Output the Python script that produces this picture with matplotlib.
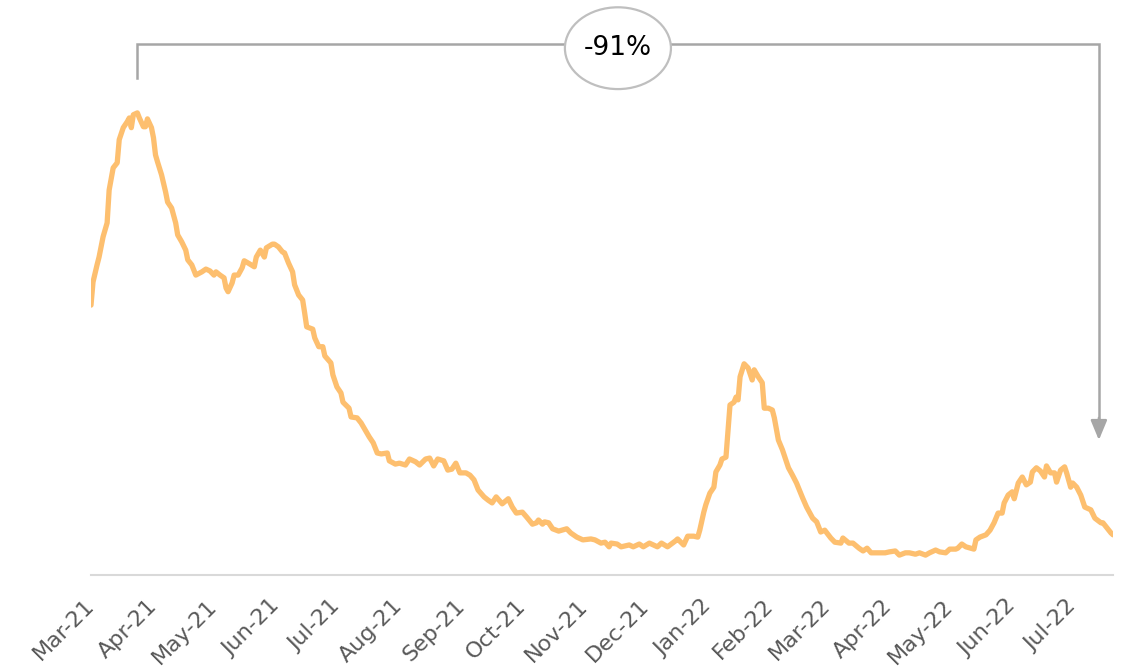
import matplotlib
matplotlib.use('Agg')
import matplotlib.pyplot as plt
import matplotlib.dates as mdates
from matplotlib.patches import Ellipse
import pandas as pd

# 数据：自 2021-03-01 起的天数，以及对应的数值（峰值 = 100）
day = [0, 1, 3, 4, 6, 8, 9, 11, 13, 14, 16, 18, 19, 20, 21, 23, 24, 26, 27, 28,
       30, 31, 32, 33, 35, 37, 38, 40, 42, 43, 45, 47, 48, 50, 52, 55, 57, 59, 61, 62,
       64, 66, 67, 68, 70, 71, 73, 75, 76, 78, 81, 82, 84, 86, 87, 90, 91, 93, 95, 96,
       98, 100, 101, 103, 105, 106, 107, 110, 111, 113, 115, 116, 119, 120, 122, 124, 125, 128, 129, 132,
       134, 136, 138, 140, 142, 144, 147, 148, 151, 153, 156, 158, 161, 163, 166, 168, 170, 172, 175, 177,
       179, 181, 183, 186, 188, 190, 192, 195, 197, 199, 201, 204, 207, 209, 211, 214, 216, 219, 221, 222,
       224, 225, 227, 229, 232, 236, 238, 241, 244, 248, 250, 253, 255, 257, 258, 261, 263, 267, 269, 272,
       274, 277, 281, 283, 286, 290, 291, 294, 296, 299, 301, 302, 304, 305, 307, 309, 310, 312, 313, 315,
       316, 317, 319, 320, 321, 322, 324, 326, 328, 329, 331, 333, 334, 336, 338, 339, 341, 343, 346, 348,
       350, 353, 355, 358, 360, 362, 364, 367, 369, 372, 373, 376, 378, 381, 383, 385, 387, 391, 394, 396,
       399, 401, 404, 406, 409, 411, 414, 416, 419, 421, 424, 426, 429, 430, 432, 434, 438, 439, 441, 444,
       446, 448, 450, 452, 453, 455, 457, 458, 460, 462, 464, 466, 467, 469, 471, 473, 474, 476, 478, 479,
       481, 483, 484, 486, 487, 489, 491, 493, 496, 498, 501, 502, 504, 506, 507]
value = [58.4, 63.4, 67.1, 68.8, 73.2, 76.2, 83.3, 88.1, 89.2, 94.2, 96.8, 98.1, 98.9, 96.8, 99.6, 100.0, 98.9, 97.0, 97.0, 98.7,
         96.8, 94.6, 90.9, 89.4, 86.6, 82.9, 80.7, 79.4, 76.2, 73.6, 72.1, 70.3, 68.2, 67.1, 64.9, 65.6, 66.2, 65.8, 64.9, 65.6,
         64.9, 64.3, 62.1, 61.3, 63.2, 64.9, 64.9, 66.5, 68.0, 67.5, 66.7, 68.8, 70.3, 68.8, 70.8, 71.6, 71.6, 71.0, 69.9, 69.7,
         67.5, 65.6, 62.8, 60.6, 59.5, 56.7, 53.7, 53.2, 51.3, 49.4, 49.4, 47.4, 45.9, 43.3, 40.7, 39.4, 37.4, 36.1, 34.2, 34.0,
         32.9, 31.4, 29.9, 28.6, 26.4, 26.2, 26.4, 24.7, 24.0, 24.2, 23.8, 25.1, 24.5, 23.8, 25.1, 25.3, 23.6, 25.1, 24.7, 22.7,
         22.9, 24.2, 22.1, 22.1, 21.6, 20.6, 18.4, 16.9, 16.2, 15.6, 16.9, 15.4, 16.5, 14.7, 13.4, 13.6, 12.6, 11.0, 11.3, 11.9,
         11.0, 11.5, 11.3, 10.0, 9.5, 10.0, 9.1, 8.2, 7.6, 7.8, 7.6, 6.9, 7.1, 6.1, 6.9, 6.7, 6.1, 6.5, 6.1, 6.7,
         6.1, 6.9, 6.1, 6.9, 6.1, 7.4, 7.8, 6.5, 8.4, 8.4, 8.2, 9.7, 13.6, 15.2, 17.7, 19.0, 22.3, 23.8, 25.1, 25.5,
         31.0, 36.8, 37.4, 38.5, 37.9, 42.9, 45.7, 44.8, 42.2, 44.4, 42.9, 41.6, 36.1, 36.1, 35.7, 34.0, 29.2, 27.1, 23.2, 21.6,
         19.9, 16.7, 14.7, 12.3, 11.5, 9.3, 9.7, 8.0, 7.1, 6.9, 8.0, 6.9, 6.9, 5.8, 5.2, 5.8, 4.8, 4.8, 4.8, 5.0,
         5.2, 4.3, 4.8, 4.8, 4.5, 4.8, 4.3, 4.8, 5.4, 5.0, 4.8, 5.6, 5.6, 5.8, 6.7, 6.1, 5.6, 7.6, 8.2, 8.7,
         9.7, 11.3, 13.4, 13.4, 15.6, 17.3, 18.0, 16.5, 19.9, 21.2, 19.5, 20.1, 22.3, 23.2, 22.5, 21.2, 23.6, 22.1, 22.1, 20.1,
         22.7, 23.4, 22.1, 19.0, 19.9, 19.0, 17.3, 14.7, 14.1, 12.3, 11.3, 11.3, 10.2, 9.1, 8.7]

start = pd.Timestamp('2021-03-01')
dates = start + pd.to_timedelta(day, unit='D')

line_color = '#FDBF6F'
grey = '#A6A6A6'

fig = plt.figure(figsize=(11.25, 6.71), dpi=100)
ax = fig.add_axes([91 / 1125, 1 - 575 / 671, 1022 / 1125, 555 / 671])

ax.plot(dates, value, color=line_color, lw=3.8, solid_joinstyle='round', solid_capstyle='round')

ax.set_xlim(dates[0], dates[-1])
ax.set_ylim(0, 120.1)

# 坐标轴样式：只保留浅灰色底边
for side in ['top', 'right', 'left']:
    ax.spines[side].set_visible(False)
ax.spines['bottom'].set_color('#D9D9D9')
ax.spines['bottom'].set_linewidth(1.5)
ax.set_yticks([])
ax.xaxis.set_major_locator(mdates.MonthLocator())
ax.xaxis.set_major_formatter(mdates.DateFormatter('%b-%y'))
ax.tick_params(axis='x', length=0, pad=20, labelsize=16, labelcolor='#595959')
for lab in ax.get_xticklabels():
    lab.set_rotation(45)
    lab.set_ha('right')
    lab.set_va('center')
    lab.set_rotation_mode('anchor')

# 从峰值到最新值的变化幅度
i_peak = value.index(max(value))
x_peak = dates[i_peak]
x_end = start + pd.Timedelta(days=500)
pct = (value[-1] / value[i_peak] - 1) * 100
top = 114.9

ax.plot([x_peak, x_peak, x_end, x_end], [107.6, top, top, 33], color=grey, lw=1.8,
        clip_on=False, solid_joinstyle='miter')
ax.annotate('', xy=(x_end, 29.2), xytext=(x_end, 34), annotation_clip=False,
            arrowprops=dict(arrowstyle='-|>,head_length=0.6,head_width=0.25',
                            color=grey, lw=1.8, mutation_scale=20, shrinkA=0, shrinkB=0))

x_mid = start + pd.Timedelta(days=261.4)
ell = Ellipse((mdates.date2num(x_mid), 114.0), width=52.6, height=17.7,
              facecolor='white', edgecolor='#BFBFBF', lw=1.6, clip_on=False, zorder=5)
ax.add_patch(ell)
ax.text(x_mid, 114.0, f'{pct:.0f}%', ha='center', va='center', fontsize=19,
        color='black', zorder=6)

fig.savefig('out.png', dpi=100)
